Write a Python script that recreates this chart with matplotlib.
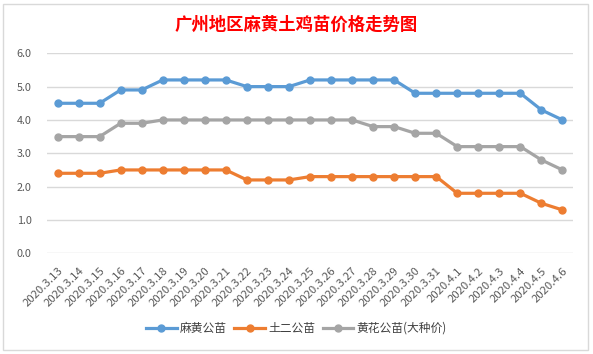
import matplotlib.pyplot as plt
from matplotlib.patches import Rectangle

plt.rcParams['font.family'] = ['Noto Sans CJK SC', 'DejaVu Sans']

dates = ['2020.3.13', '2020.3.14', '2020.3.15', '2020.3.16', '2020.3.17',
         '2020.3.18', '2020.3.19', '2020.3.20', '2020.3.21', '2020.3.22',
         '2020.3.23', '2020.3.24', '2020.3.25', '2020.3.26', '2020.3.27',
         '2020.3.28', '2020.3.29', '2020.3.30', '2020.3.31', '2020.4.1',
         '2020.4.2', '2020.4.3', '2020.4.4', '2020.4.5', '2020.4.6']
mahuang = [4.5, 4.5, 4.5, 4.9, 4.9, 5.2, 5.2, 5.2, 5.2, 5.0, 5.0, 5.0, 5.2,
           5.2, 5.2, 5.2, 5.2, 4.8, 4.8, 4.8, 4.8, 4.8, 4.8, 4.3, 4.0]
tuer = [2.4, 2.4, 2.4, 2.5, 2.5, 2.5, 2.5, 2.5, 2.5, 2.2, 2.2, 2.2, 2.3,
        2.3, 2.3, 2.3, 2.3, 2.3, 2.3, 1.8, 1.8, 1.8, 1.8, 1.5, 1.3]
huanghua = [3.5, 3.5, 3.5, 3.9, 3.9, 4.0, 4.0, 4.0, 4.0, 4.0, 4.0, 4.0, 4.0,
            4.0, 4.0, 3.8, 3.8, 3.6, 3.6, 3.2, 3.2, 3.2, 3.2, 2.8, 2.5]

series = [('麻黄公苗', mahuang, '#5B9BD5'),
          ('土二公苗', tuer, '#ED7D31'),
          ('黄花公苗(大种价)', huanghua, '#A5A5A5')]

fig = plt.figure(figsize=(5.93, 3.54), dpi=100)
fig.patches.append(Rectangle((0.005, 0.012), 0.987, 0.978, transform=fig.transFigure,
                             fill=False, edgecolor='#D9D9D9', linewidth=1))
ax = fig.add_axes([0.0793, 0.2845, 0.887, 0.565])

x = range(len(dates))
for name, vals, color in series:
    ax.plot(x, vals, color=color, linewidth=2.3, marker='o', markersize=5, label=name)

ax.set_xlim(-0.5, len(dates) - 0.5)
ax.set_ylim(0, 6)
ax.set_yticks([0, 1, 2, 3, 4, 5, 6])
ax.set_yticklabels([f'{v:.1f}' for v in range(7)])
ax.set_xticks(list(x))
ax.set_xticklabels(dates, rotation=45, ha='right', rotation_mode='anchor')
ax.grid(axis='y', color='#D9D9D9', linewidth=1)
ax.set_axisbelow(True)
for s in ax.spines.values():
    s.set_visible(False)
ax.tick_params(axis='both', length=0, colors='#595959')
ax.tick_params(axis='x', pad=9, labelsize=8.2)
ax.tick_params(axis='y', pad=11, labelsize=7.8)

fig.text(0.5, 0.93, '广州地区麻黄土鸡苗价格走势图', ha='center', va='center',
         color='red', fontsize=12.5, fontweight='bold')
fig.legend(loc='center', bbox_to_anchor=(0.5, 0.072), ncol=3, frameon=False,
           fontsize=8.5, handlelength=2.6, columnspacing=0.6, handletextpad=0.3,
           labelcolor='#404040')

fig.savefig('out.png', dpi=100)
